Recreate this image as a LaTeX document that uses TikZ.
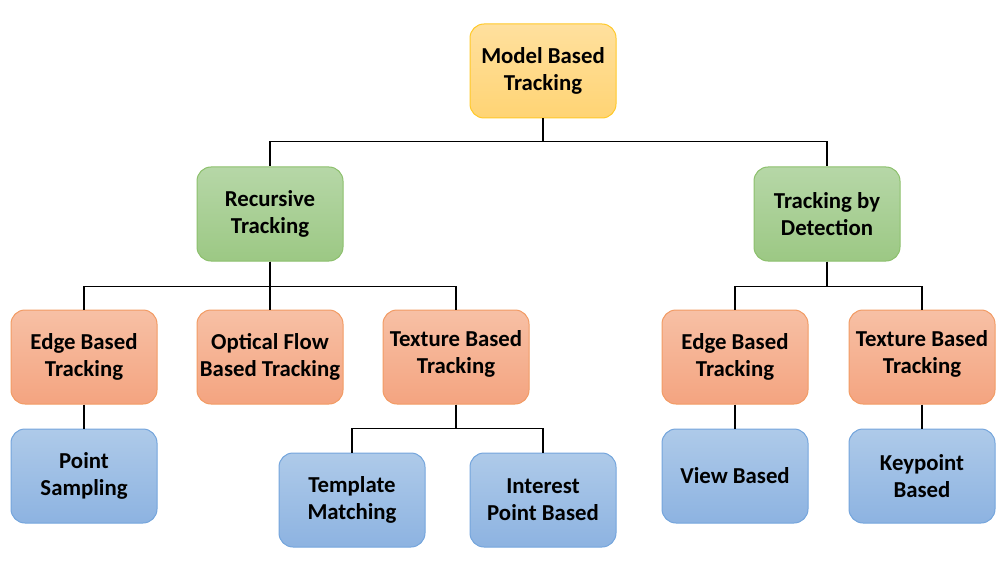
\documentclass[tikz,border=0pt]{standalone}
\usepackage{fontspec}
\setmainfont{Carlito}
\tikzset{
  box/.style={draw, rounded corners=14pt, line width=1pt, minimum width=146pt, minimum height=94pt,
    align=center, inner sep=1pt, font=\fontsize{22.8}{27}\selectfont\bfseries, text=black},
  yel/.style={box, draw=yelB, top color=yelT, bottom color=yelD},
  grn/.style={box, draw=grnB, top color=grnT, bottom color=grnD},
  org/.style={box, draw=orgB, top color=orgT, bottom color=orgD},
  blu/.style={box, draw=bluB, top color=bluT, bottom color=bluD},
  raised/.style={text depth=10pt},
  conn/.style={draw=black, line width=1.4pt}
}
\definecolor{yelB}{HTML}{FFC929}
\definecolor{yelT}{HTML}{FFE09E}
\definecolor{yelD}{HTML}{FFD474}
\definecolor{grnB}{HTML}{8CC06C}
\definecolor{grnT}{HTML}{B6D7A7}
\definecolor{grnD}{HTML}{9CC884}
\definecolor{orgB}{HTML}{F29B64}
\definecolor{orgT}{HTML}{F7C0A5}
\definecolor{orgD}{HTML}{F4A480}
\definecolor{bluB}{HTML}{74A5DC}
\definecolor{bluT}{HTML}{AECAE9}
\definecolor{bluD}{HTML}{8DB3E1}
\begin{document}
\begin{tikzpicture}[x=1pt,y=-1pt]
\useasboundingbox (0,0) rectangle (1006,564);
\node[yel] (model) at (543,71) {Model Based\\Tracking};
\node[grn] (rec) at (270,214) {Recursive\\Tracking};
\node[grn] (det) at (827,214) {Tracking by\\Detection};
\node[org] (edgeL) at (84,357) {Edge Based\\Tracking};
\node[org] (flow) at (270,357) {Optical Flow\\Based Tracking};
\node[org,raised] (texL) at (456,357) {Texture Based\\Tracking};
\node[org] (edgeR) at (735,357) {Edge Based\\Tracking};
\node[org,raised] (texR) at (922,357) {Texture Based\\Tracking};
\node[blu] (point) at (84,476) {Point\\Sampling};
\node[blu] (templ) at (352,500) {Template\\Matching};
\node[blu] (inter) at (543,500) {Interest\\Point Based};
\node[blu] (view) at (735,476) {View Based};
\node[blu] (key) at (922,476) {Keypoint\\Based};

\draw[conn] (model.south) -- ++(0,23) -| (rec.north);
\draw[conn] (model.south) -- ++(0,23) -| (det.north);
\draw[conn] (rec.south) -- ++(0,25) -| (edgeL.north);
\draw[conn] (rec.south) -- (flow.north);
\draw[conn] (rec.south) -- ++(0,25) -| (texL.north);
\draw[conn] (det.south) -- ++(0,25) -| (edgeR.north);
\draw[conn] (det.south) -- ++(0,25) -| (texR.north);
\draw[conn] (edgeL.south) -- (point.north);
\draw[conn] (texL.south) -- ++(0,24) -| (templ.north);
\draw[conn] (texL.south) -- ++(0,24) -| (inter.north);
\draw[conn] (edgeR.south) -- (view.north);
\draw[conn] (texR.south) -- (key.north);
\end{tikzpicture}
\end{document}
